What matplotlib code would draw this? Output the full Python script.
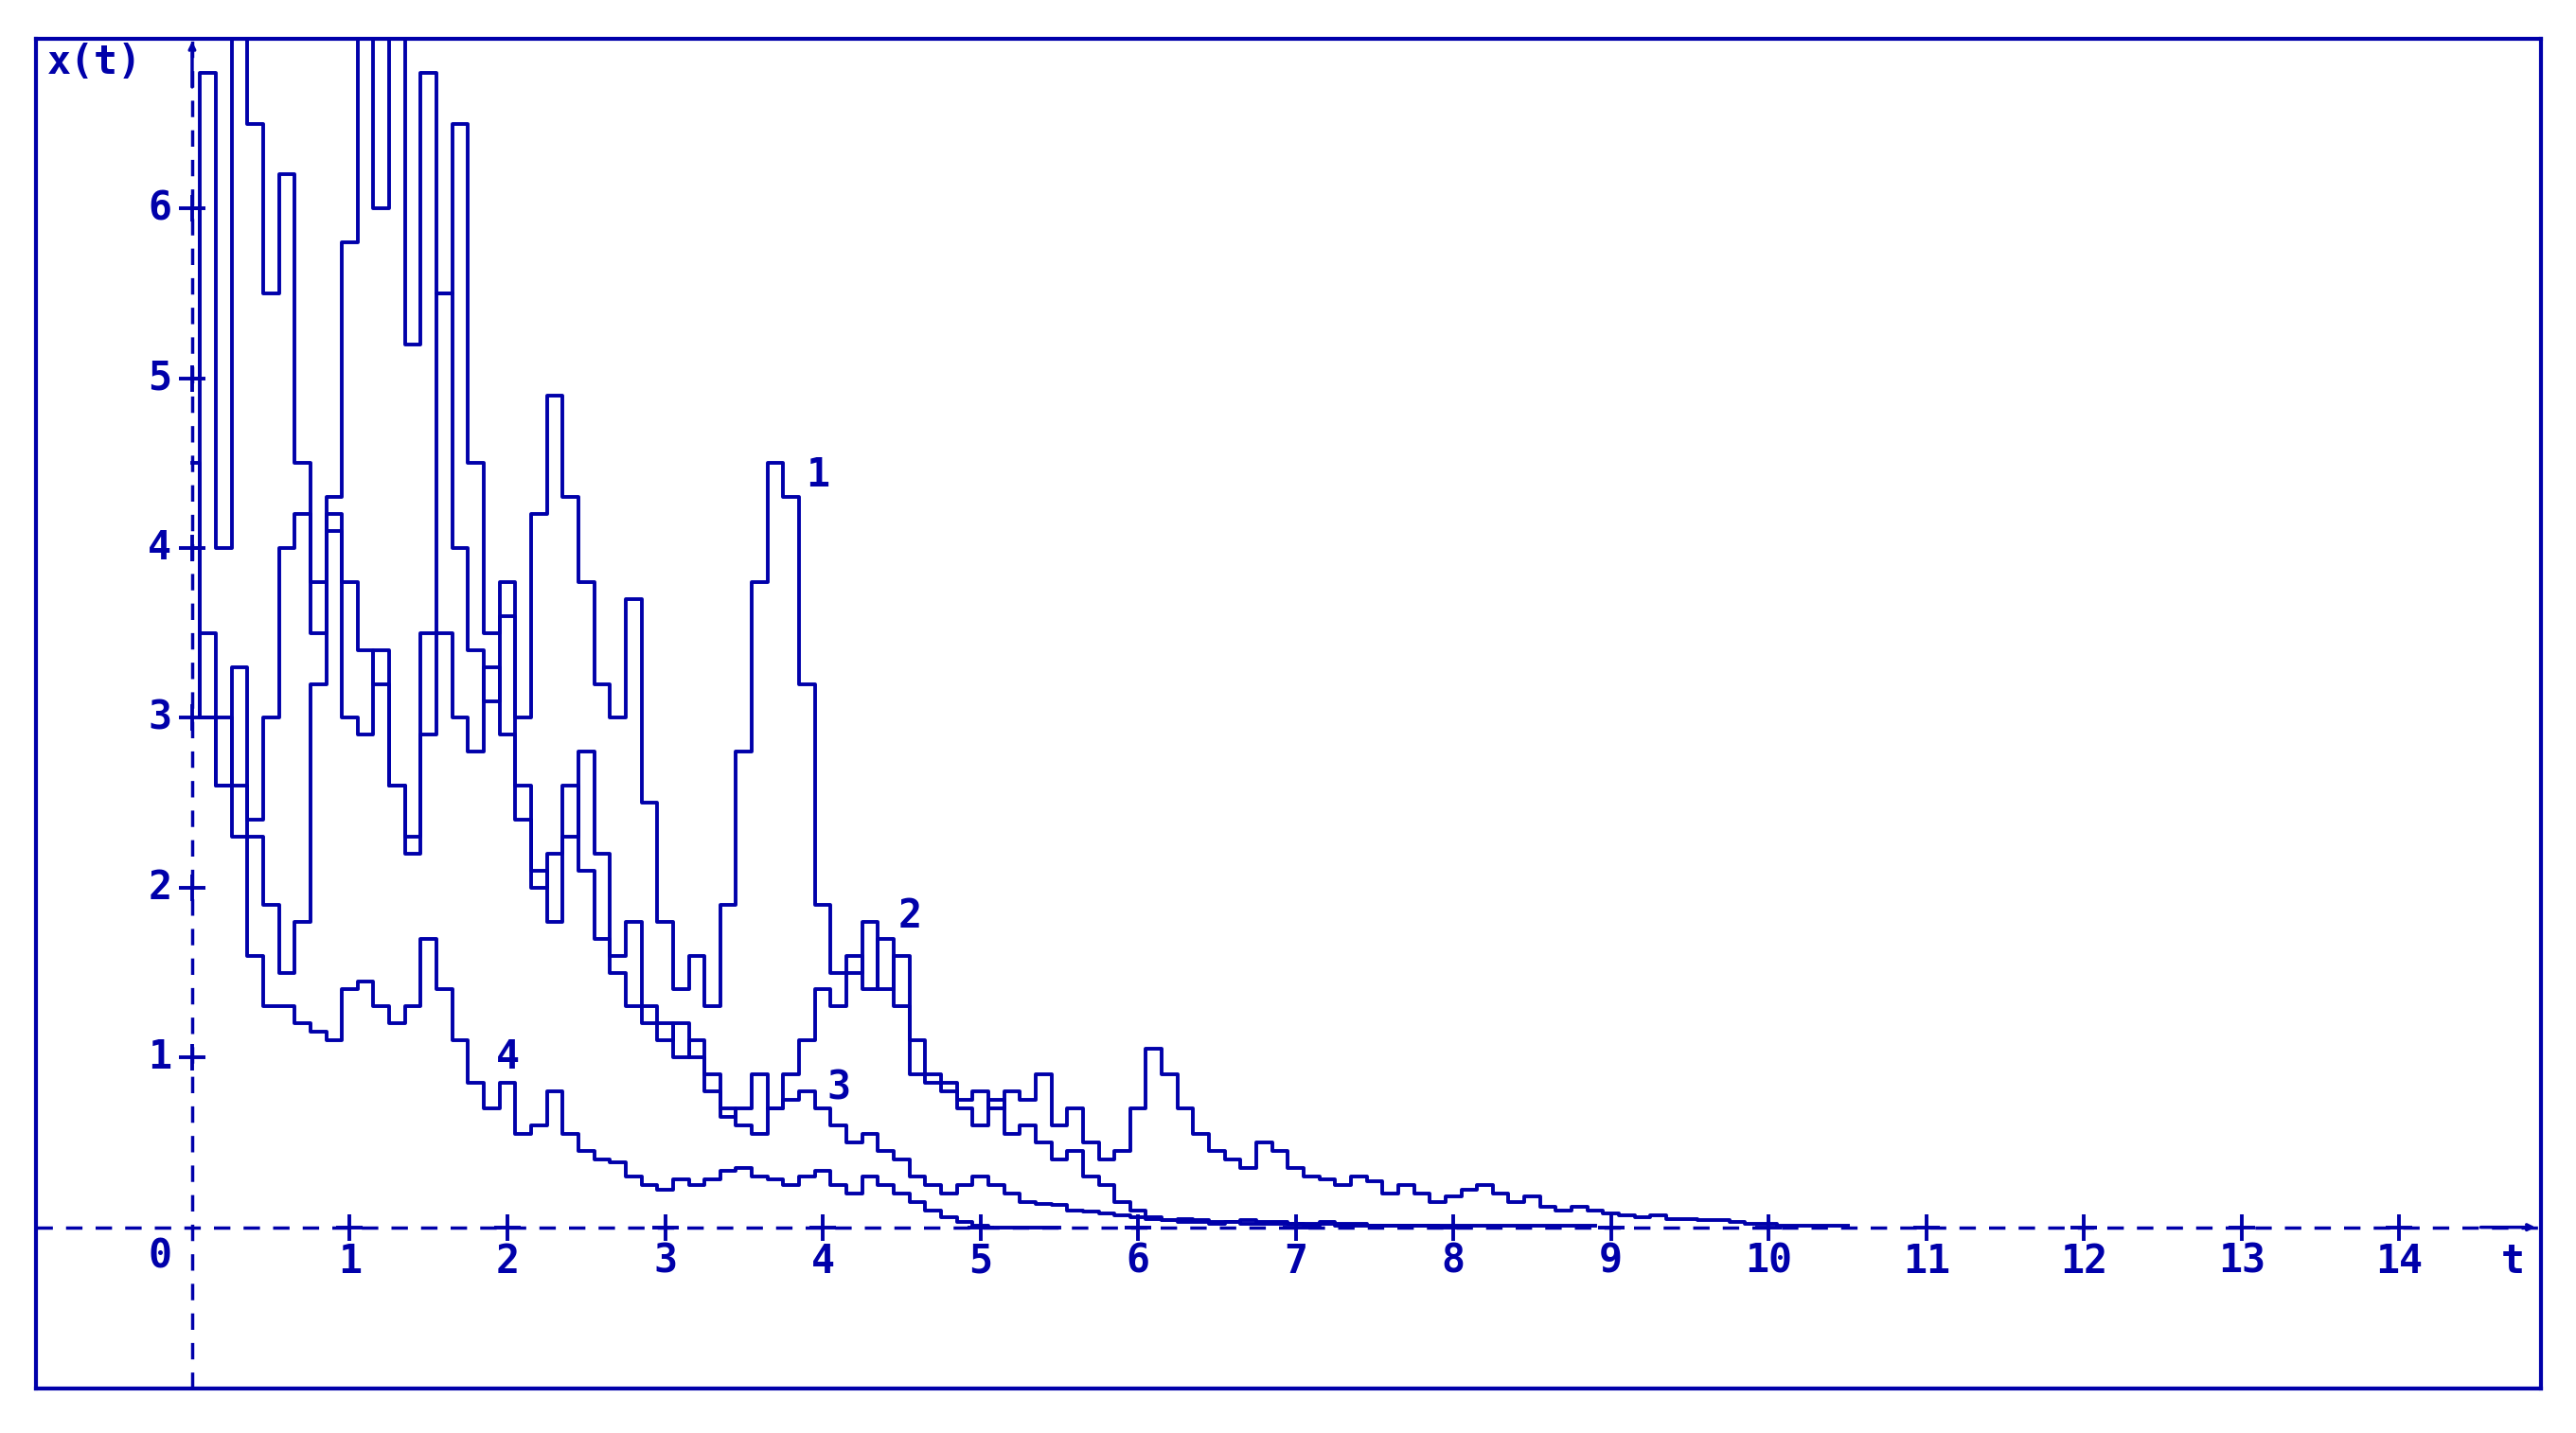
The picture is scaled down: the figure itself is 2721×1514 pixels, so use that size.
import matplotlib.pyplot as plt
import numpy as np

NAVY = "#0000AA"

# sample step of every path (time units)
DT = 0.1

path_1 = [5.0, 6.8, 4.0, 7.0, 6.5, 5.5, 6.2, 4.5, 3.8, 4.3,
          5.8, 7.0, 6.0, 7.0, 5.2, 6.8, 5.5, 6.5, 4.5, 3.5,
          3.8, 3.0, 4.2, 4.9, 4.3, 3.8, 3.2, 3.0, 3.7, 2.5,
          1.8, 1.4, 1.6, 1.3, 1.9, 2.8, 3.8, 4.5, 4.3, 3.2,
          1.9, 1.5, 1.6, 1.4, 1.7, 1.3, 0.9, 0.85, 0.8, 0.75,
          0.8, 0.7, 0.8, 0.75, 0.9, 0.6, 0.7, 0.5, 0.4, 0.45,
          0.7, 1.05, 0.9, 0.7, 0.55, 0.45, 0.4, 0.35, 0.5, 0.45,
          0.35, 0.3, 0.28, 0.25, 0.3, 0.27, 0.2, 0.25, 0.2, 0.15,
          0.18, 0.22, 0.25, 0.2, 0.15, 0.18, 0.12, 0.1, 0.12, 0.1,
          0.08, 0.07, 0.06, 0.07, 0.05, 0.05, 0.04, 0.04, 0.03, 0.02,
          0.02, 0.01, 0.01, 0.01, 0.01, 0.01]

path_2 = [4.0, 3.0, 2.6, 3.3, 2.4, 3.0, 4.0, 4.2, 3.5, 4.1,
          3.0, 2.9, 3.4, 2.6, 2.2, 3.5, 5.5, 4.0, 3.4, 3.1,
          3.6, 2.6, 2.1, 1.8, 2.3, 2.8, 2.2, 1.6, 1.8, 1.3,
          1.2, 1.0, 1.1, 0.9, 0.7, 0.6, 0.55, 0.7, 0.9, 1.1,
          1.4, 1.3, 1.5, 1.8, 1.4, 1.6, 1.1, 0.9, 0.85, 0.7,
          0.6, 0.75, 0.55, 0.6, 0.5, 0.4, 0.45, 0.3, 0.25, 0.15,
          0.1, 0.06, 0.04, 0.03, 0.03, 0.02, 0.03, 0.02, 0.02, 0.02,
          0.02, 0.01, 0.02, 0.01, 0.01, 0.01, 0.01, 0.01, 0.01, 0.01]

path_3 = [6.0, 3.5, 3.0, 2.6, 2.3, 1.9, 1.5, 1.8, 3.2, 4.2,
          3.8, 3.4, 3.2, 2.6, 2.3, 2.9, 3.5, 3.0, 2.8, 3.3,
          2.9, 2.4, 2.0, 2.2, 2.6, 2.1, 1.7, 1.5, 1.3, 1.2,
          1.1, 1.2, 1.0, 0.8, 0.65, 0.7, 0.9, 0.7, 0.75, 0.8,
          0.7, 0.6, 0.5, 0.55, 0.45, 0.4, 0.3, 0.25, 0.2, 0.25,
          0.3, 0.25, 0.2, 0.15, 0.14, 0.13, 0.1, 0.09, 0.08, 0.07,
          0.06, 0.05, 0.04, 0.05, 0.04, 0.03, 0.03, 0.04, 0.03, 0.03,
          0.02, 0.02, 0.03, 0.02, 0.02, 0.01, 0.01, 0.01, 0.01, 0.01,
          0.01, 0.01, 0.01, 0.01, 0.01, 0.01, 0.01, 0.01, 0.01, 0.01]

path_4 = [4.5, 3.0, 2.6, 2.3, 1.6, 1.3, 1.3, 1.2, 1.15, 1.1,
          1.4, 1.45, 1.3, 1.2, 1.3, 1.7, 1.4, 1.1, 0.85, 0.7,
          0.85, 0.55, 0.6, 0.8, 0.55, 0.45, 0.4, 0.38, 0.3, 0.25,
          0.22, 0.28, 0.25, 0.28, 0.33, 0.35, 0.3, 0.28, 0.25, 0.3,
          0.33, 0.25, 0.2, 0.3, 0.25, 0.2, 0.15, 0.1, 0.06, 0.03,
          0.01, 0.0, 0.0, 0.0, 0.0, 0.0]

path_labels = ["1", "2", "3", "4"]
label_pos = [(3.97, 4.43), (4.55, 1.83), (4.1, 0.82), (2.0, 1.0)]

x_ticks = list(range(1, 15))
y_ticks = list(range(1, 7))

fig = plt.figure(figsize=(27.21, 15.14), dpi=100)
ax = fig.add_axes([0.014, 0.031, 0.9725, 0.942])
ax.set_xlim(-0.99, 14.9)
ax.set_ylim(-0.95, 7.0)
ax.set_xticks([])
ax.set_yticks([])
for sp in ax.spines.values():
    sp.set_color(NAVY)
    sp.set_linewidth(3)

font = dict(family="DejaVu Sans Mono", weight="heavy", size=30, color=NAVY)

# dashed axes through the origin
ax.axhline(0, color=NAVY, lw=2.5, ls=(0, (5, 4)))
ax.axvline(0, color=NAVY, lw=2.5, ls=(0, (5, 4)))
ax.annotate("", xy=(14.88, 0), xytext=(14.5, 0),
            arrowprops=dict(arrowstyle="->", color=NAVY, lw=2.5))
ax.annotate("", xy=(0, 7.0), xytext=(0, 6.7),
            arrowprops=dict(arrowstyle="->", color=NAVY, lw=2.5))

for paths in [path_1, path_2, path_3, path_4]:
    t = np.arange(len(paths)) * DT
    ax.plot(t, paths, color=NAVY, lw=2.8, drawstyle="steps-mid")

for lab, (lx, ly) in zip(path_labels, label_pos):
    ax.text(lx, ly, lab, ha="center", va="center", **font)

ax.plot(x_ticks, [0] * len(x_ticks), "+", color=NAVY, ms=20, mew=2.8)
ax.plot([0] * len(y_ticks), y_ticks, "+", color=NAVY, ms=20, mew=2.8)
for x in x_ticks:
    ax.text(x, -0.2, str(x), ha="center", va="center", **font)
for y in y_ticks:
    ax.text(-0.13, y, str(y), ha="right", va="center", **font)
ax.text(-0.13, -0.17, "0", ha="right", va="center", **font)
ax.text(14.72, -0.2, "t", ha="center", va="center", **font)
ax.text(-0.92, 6.86, "x(t)", ha="left", va="center", **font)

fig.savefig("out.png", dpi=100)
